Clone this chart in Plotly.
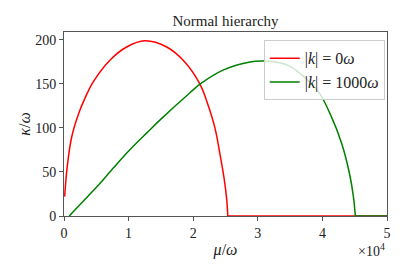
import plotly.graph_objects as go

# Data (mu in units of omega, kappa in units of omega)
red_mu = [100, 500, 1200, 2300, 3200, 4500, 7100, 9700, 12500, 15900, 18700,
          21100, 22300, 23400, 24100, 24800, 25200, 25350, 50000]
red_kappa = [22, 56, 90, 117, 133, 152, 177, 192, 199, 192, 175,
             149, 126, 99, 72, 42, 18, 0, 0]

green_mu = [800, 2600, 5200, 7700, 10300, 12900, 15000, 19500, 21100, 24700,
            28800, 30900, 33400, 35000, 39200, 41200, 43000, 44200, 44800, 45100, 50000]
green_kappa = [0, 14, 34, 55, 76, 95, 110, 140, 150, 166,
               175, 176, 174, 170, 143, 116, 82, 48, 22, 0, 0]

x_tickvals = [0, 10000, 20000, 30000, 40000, 50000]
x_ticktext = ["0", "1", "2", "3", "4", "5"]
y_tickvals = [0, 50, 100, 150, 200]

FONT = "Liberation Serif, Times New Roman, serif"

fig = go.Figure()


def add_series(mu, kappa, color, name):
    # curved part up to the point where kappa reaches zero, then flat zero segment
    idx = len(kappa) - 2
    fig.add_trace(go.Scatter(x=mu[:idx + 1], y=kappa[:idx + 1], mode="lines",
                             line=dict(color=color, width=1.5, shape="spline", smoothing=1.0),
                             name=name, legendgroup=name))
    fig.add_trace(go.Scatter(x=mu[idx:], y=kappa[idx:], mode="lines",
                             line=dict(color=color, width=1.5),
                             name=name, legendgroup=name, showlegend=False))


add_series(red_mu, red_kappa, "#ff0000", "|<i>k</i>| = 0<i>ω</i>")
add_series(green_mu, green_kappa, "#008000", "|<i>k</i>| = 1000<i>ω</i>")

axis_common = dict(showline=True, linecolor="#555", linewidth=1, mirror=True,
                   ticks="outside", ticklen=4, tickcolor="#555", showgrid=False,
                   zeroline=False, tickfont=dict(family=FONT, size=14, color="#222"))

fig.update_layout(
    width=407, height=271,
    margin=dict(l=64, r=20, t=32, b=55),
    paper_bgcolor="white", plot_bgcolor="white",
    font=dict(family=FONT, size=14, color="#222"),
    title=dict(text="Normal hierarchy", x=(64 + 387) / 2 / 407, xanchor="center",
               y=1 - 21 / 271, yanchor="middle", font=dict(family=FONT, size=15, color="#222")),
    xaxis=dict(range=[0, 50000], tickvals=x_tickvals, ticktext=x_ticktext,
               title=dict(text="<i>μ</i>/<i>ω</i>", standoff=4, font=dict(family=FONT, size=16)),
               **axis_common),
    yaxis=dict(range=[0, 209], tickvals=y_tickvals,
               title=dict(text="<i>κ</i>/<i>ω</i>", standoff=0, font=dict(family=FONT, size=16)),
               **axis_common),
    legend=dict(x=0.993, y=0.955, xanchor="right", yanchor="top",
                bgcolor="rgba(255,255,255,0.8)", bordercolor="#ccc", borderwidth=1,
                font=dict(family=FONT, size=16, color="#222"), tracegroupgap=0),
    showlegend=True,
)

fig.add_annotation(text="×10<sup>4</sup>", xref="paper", yref="paper", x=1.0, y=-0.125,
                   xanchor="right", yanchor="top", showarrow=False,
                   font=dict(family=FONT, size=14, color="#222"))

fig.write_html("out.html", config={"displayModeBar": False},
               post_script="document.body.style.margin='0';")
